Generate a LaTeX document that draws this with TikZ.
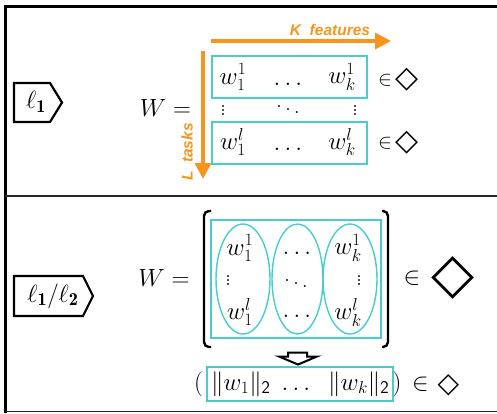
\documentclass[tikz,border=0pt]{standalone}
\usepackage{amsmath}
\usepackage{fontspec}
\newfontfamily\arialfont{Liberation Sans}
\newfontfamily\dejavu{DejaVu Sans}
\usetikzlibrary{arrows.meta}
\definecolor{tealc}{RGB}{72,204,204}
\definecolor{orangec}{RGB}{247,148,29}
\definecolor{linec}{RGB}{40,40,40}
\begin{document}
\begin{tikzpicture}[x=1pt,y=-1pt,
  every node/.style={inner sep=0pt,outer sep=0pt},
  mbig/.style={font=\fontsize{24}{28}\selectfont},
  mW/.style={font=\fontsize{26}{30}\selectfont},
  ment/.style={font=\fontsize{27}{30}\selectfont},
  mtag/.style={font=\fontsize{26}{30}\selectfont},
  mdots/.style={font=\fontsize{24}{26}\selectfont,anchor=base},
  rowbox/.style={draw=tealc,line width=1.8pt},
  grp/.style={draw=tealc,line width=1.4pt},
  tagshape/.style={draw=black,line width=2.2pt,line join=miter},
  oarrow/.style={draw=orangec,line width=3.6pt,-{Triangle[length=16pt,width=16pt]}},
  olabel/.style={text=orangec,font=\arialfont\bfseries\itshape\fontsize{15.5}{18}\selectfont},
  hollow/.style={draw=black,line width=2pt,fill=white,line join=miter},
  brack/.style={draw=black,line width=2.4pt,rounded corners=5pt},
  dia/.style={font=\dejavu\fontsize{#1}{#1}\selectfont}
]
\useasboundingbox (0,0) rectangle (497,413);
% frame
\draw[line width=3.3pt] (5.5,413) -- (5.5,6.5) -- (497,6.5);
\draw[linec,line width=1.2pt] (5,196) -- (497,196);
\draw[linec,line width=1.2pt] (5,411.5) -- (497,411.5);

% ===== upper panel =====
\draw[tagshape] (14,83) -- (50,83) -- (62,102.5) -- (50,122) -- (14,122) -- cycle;
\node[mtag] (tag1) at (36,102) {$\ell_{\mathbf{1}}$};

\node[mW] (W1) at (165.5,108) {$W =$};

\coordinate (ks) at (211,41);
\coordinate (ke) at (391,41);
\draw[oarrow] (ks) -- (ke);
\node[olabel] (kf) at (330,30) {K~~features};

\coordinate (ls) at (203,51);
\coordinate (le) at (203,179);
\draw[oarrow] (ls) -- (le);
\node[olabel,rotate=90] (lt) at (187,152) {L~~tasks};

\node[rowbox,minimum width=155pt,minimum height=42pt] (row1) at (289.5,77) {};
\node[rowbox,minimum width=155pt,minimum height=42pt] (row2) at (289.5,143) {};

\node[ment] (a11) at (233,77) {$w_1^1$};
\node[mdots] (a12) at (288,85) {$\ldots$};
\node[ment] (a13) at (342,77) {$w_k^1$};
\node[mdots] (v1) at (223,115) {$\vdots$};
\node[mdots] (v2) at (288,114) {$\ddots$};
\node[mdots] (v3) at (355,115) {$\vdots$};
\node[ment] (a21) at (233,142) {$w_1^l$};
\node[mdots] (a22) at (288,150) {$\ldots$};
\node[ment] (a23) at (342,142) {$w_k^l$};

\node[font=\fontsize{21}{24}\selectfont] (in1) at (385,80) {$\in$};
\node[dia=30] (d1) at (407,80) {◇};
\node[font=\fontsize{21}{24}\selectfont] (in2) at (385,143) {$\in$};
\node[dia=30] (d2) at (407,143) {◇};

% ===== lower panel =====
\draw[tagshape] (14,276) -- (83,276) -- (93,296) -- (83,316) -- (14,316) -- cycle;
\node[mtag] (tag2) at (53,296) {$\ell_{\mathbf{1}}/\ell_{\mathbf{2}}$};

\node[mW] (W2) at (164,278) {$W =$};

\draw[brack] (211,211) -- (204,211) -- (204,347) -- (211,347);
\draw[brack] (382,211) -- (388,211) -- (388,347) -- (382,347);

\node[rowbox,minimum width=170pt,minimum height=118pt] (mat) at (296,279) {};
\draw[grp] (243,279) ellipse [x radius=27, y radius=55];
\draw[grp] (297.5,279) ellipse [x radius=25.5, y radius=55];
\draw[grp] (350,279) ellipse [x radius=27, y radius=55];

\node[ment] (b11) at (240,248) {$w_1^1$};
\node[mdots] (b21) at (228,285) {$\vdots$};
\node[ment] (b31) at (240,312) {$w_1^l$};
\node[mdots] (b12) at (297,254) {$\ldots$};
\node[mdots] (b22) at (296,288) {$\ddots$};
\node[mdots] (b32) at (297,317) {$\ldots$};
\node[ment] (b13) at (348,248) {$w_k^1$};
\node[mdots] (b23) at (359,285) {$\vdots$};
\node[ment] (b33) at (348,312) {$w_k^l$};

\node[font=\fontsize{42}{46}\selectfont] (in3) at (412,278) {$\in$};
\node[dia=56] (d3) at (453.5,278) {◇};

\draw[hollow] (288,352.5) -- (307,352.5) -- (307,356.5) -- (317,356.5) -- (298,364.5) -- (279,356.5) -- (288,356.5) -- cycle;

\node[mbig,anchor=base] (lp) at (198.5,390) {$($};
\node[font=\fontsize{25.5}{28}\selectfont,anchor=base west,draw=tealc,line width=1.8pt,inner xsep=4pt,inner ysep=4.5pt] (nrm) at (207,390)
  {$\|w_1\|_{\mathsf{2}}\;\ldots\;\;\|w_k\|_{\mathsf{2}}$};
\node[mbig,anchor=base] (rp) at (397,390) {$)$};
\node[mbig,anchor=base] (in4) at (420.5,390) {$\in$};
\node[dia=28] (d4) at (448.5,385) {◇};
\end{tikzpicture}
\end{document}
